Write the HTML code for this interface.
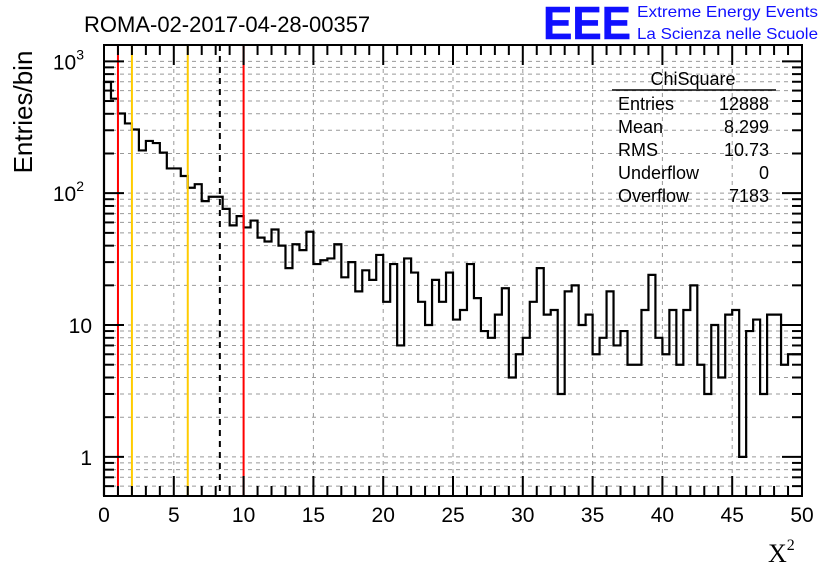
<!DOCTYPE html>
<html><head><meta charset="utf-8"><style>
body{margin:0;background:#fff;}
svg{display:block;font-family:"Liberation Sans",sans-serif;}
</style></head><body>
<svg id="c" width="836" height="572" viewBox="0 0 836 572">
<rect width="836" height="572" fill="#fff"/>
<text x="84" y="32" font-size="22">ROMA-02-2017-04-28-00357</text>
<text x="543" y="39" font-size="46" font-weight="bold" fill="#1010ff" stroke="#1010ff" stroke-width="0.5" textLength="88" lengthAdjust="spacingAndGlyphs">EEE</text>
<text x="637" y="17" font-size="16" fill="#1010ff" textLength="181" lengthAdjust="spacingAndGlyphs">Extreme Energy Events</text>
<text x="637" y="39" font-size="16" fill="#1010ff" textLength="181" lengthAdjust="spacingAndGlyphs">La Scienza nelle Scuole</text>
<text transform="translate(32,112) rotate(-90)" text-anchor="middle" font-size="26">Entries/bin</text>
<text x="768" y="562" font-size="26" font-family="Liberation Serif,serif">X<tspan font-size="16" dy="-12">2</tspan></text>
<g id="grid"></g>
<g id="hist"></g>
<g id="lines"></g>
<g id="axes"></g>
<g font-size="18">
<text x="693" y="85" text-anchor="middle">ChiSquare</text>
<line x1="612" y1="90" x2="776" y2="90" stroke="#000" stroke-width="1.5"/>
<text x="618" y="110">Entries</text><text x="769" y="110" text-anchor="end">12888</text>
<text x="618" y="133">Mean</text><text x="769" y="133" text-anchor="end">8.299</text>
<text x="618" y="156">RMS</text><text x="769" y="156" text-anchor="end">10.73</text>
<text x="618" y="179">Underflow</text><text x="769" y="179" text-anchor="end">0</text>
<text x="618" y="202">Overflow</text><text x="769" y="202" text-anchor="end">7183</text>
</g>
</svg>
<script>
const binLow = 0, binWidth = 0.5;
const counts = [697,521,402,338,304,211,249,240,203,154,154,135,110,117,87,94,94,76,57,67,
55,62,46,43,53,40,27,41,37,51,29,31,32,41,23,30,18,26,22,34,
15,29,7,32,25,15,10,22,15,25,11,13,29,16,9,8,12,19,4,6,
8,15,27,12,13,3,18,20,10,12,6,8,18,7,9,5,5,13,24,8,
6,13,5,13,20,5,3,10,4,12,13,1,9,11,3,12,12,5,6,6];
const xTicks = [0,5,10,15,20,25,30,35,40,45,50];
const yDecades = [1,10,100,1000];
const yDecadeLabels = ["1","10","10","10"];
const yDecadeExp = ["","","2","3"];
const markers = [{x:1,c:"#ff0000",d:""},{x:2,c:"#ffcc00",d:""},{x:6,c:"#ffcc00",d:""},{x:8.299,c:"#000",d:"6,5"},{x:10,c:"#ff0000",d:""}];

const L=104,R=802,T=45,B=496,xmin=0,xmax=50,ymin=0.505,ymax=1330;
const X=v=>L+(v-xmin)/(xmax-xmin)*(R-L);
const Y=v=>B-(Math.log10(v)-Math.log10(ymin))/(Math.log10(ymax)-Math.log10(ymin))*(B-T);
const NS="http://www.w3.org/2000/svg";
function mk(p,t,a){const e=document.createElementNS(NS,t);for(const k in a)e.setAttribute(k,a[k]);p.appendChild(e);return e;}
const grid=document.getElementById('grid'),hist=document.getElementById('hist'),lines=document.getElementById('lines'),axes=document.getElementById('axes');
xTicks.forEach(t=>{if(t>xmin&&t<xmax){const g=mk(grid,'line',{x1:X(t),x2:X(t),y1:T,y2:B,stroke:'#999','stroke-dasharray':'4,4'});

}});
for(let d=0.1;d<=1000;d*=10){for(let m=1;m<10;m++){const v=+(d*m).toPrecision(3);if(v<ymin||v>ymax)continue;
const g=mk(grid,'line',{x1:L,x2:R,y1:Y(v),y2:Y(v),stroke:'#999','stroke-dasharray':'4,4'});


const tl=(m===1)?20:10;
const t1=mk(axes,'line',{x1:L,x2:L+tl,y1:Y(v),y2:Y(v),stroke:'#000','stroke-width':2});


const t2=mk(axes,'line',{x1:R,x2:R-tl,y1:Y(v),y2:Y(v),stroke:'#000','stroke-width':2});

}}
let d='M'+X(binLow)+','+B;
counts.forEach((c,i)=>{const x0=X(binLow+i*binWidth),x1=X(binLow+(i+1)*binWidth),y=Y(Math.max(c,ymin));d+=' L'+x0+','+y+' L'+x1+','+y;});
d+=' L'+X(binLow+counts.length*binWidth)+','+Y(counts[counts.length-1]);
const h=mk(hist,'path',{d:d,fill:'none',stroke:'#000','stroke-width':2.2});


markers.forEach(m=>{const l=mk(lines,'line',{x1:X(m.x),x2:X(m.x),y1:T,y2:B,stroke:m.c,'stroke-width':2});if(m.d)l.setAttribute('stroke-dasharray',m.d);

});
const f=mk(axes,'rect',{x:L,y:T,width:R-L,height:B-T,fill:'none',stroke:'#000','stroke-width':2});


for(let v=xmin;v<=xmax;v+=1){const major=v%5===0,tl=major?20:10;
const a=mk(axes,'line',{x1:X(v),x2:X(v),y1:B,y2:B-tl,stroke:'#000','stroke-width':2});


const b=mk(axes,'line',{x1:X(v),x2:X(v),y1:T,y2:T+tl,stroke:'#000','stroke-width':2});

}
xTicks.forEach(t=>{const tx=mk(axes,'text',{x:X(t),y:522,'text-anchor':'middle','font-size':21});tx.textContent=t;

});
yDecades.forEach((v,i)=>{const tx=mk(axes,'text',{x:92,y:Y(v)+8,'text-anchor':'end','font-size':21});tx.textContent=yDecadeLabels[i];
if(yDecadeExp[i]){tx.setAttribute('x',84);const s=mk(tx,'tspan',{'font-size':14,dy:-10});s.textContent=yDecadeExp[i];}

});
</script>
</body></html>
